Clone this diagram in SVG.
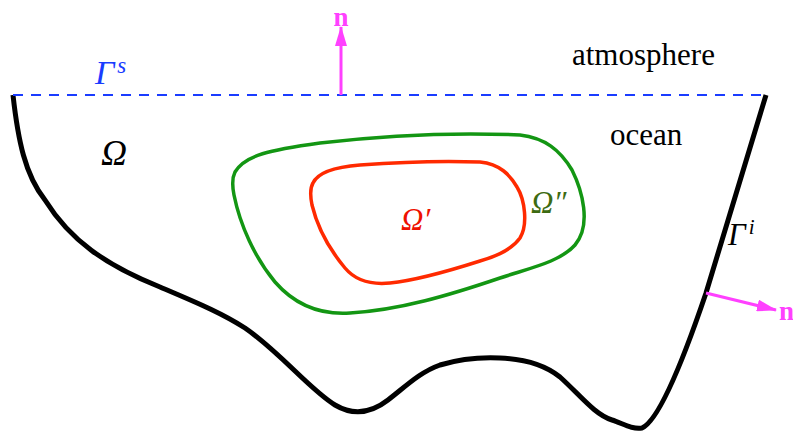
<svg xmlns="http://www.w3.org/2000/svg" width="793" height="432" viewBox="0 0 793 432">
<style>
.t{font-family:"Liberation Serif","Times New Roman",serif}
.it{font-style:italic}
.mag{fill:#ff40ff}
</style>
<defs>
<marker id="ah" markerWidth="20" markerHeight="12" refX="19" refY="6" orient="auto" markerUnits="userSpaceOnUse" viewBox="0 0 20 12">
<path d="M0,0 L20,6 L0,12 Z" fill="#ff40ff"/>
</marker>
</defs>
<rect width="793" height="432" fill="#fff"/>
<g id="basin">
<path d="M13,95 C18,140 25,175 45,200 C70,240 105,265 160,287 C195,302 220,312 245,328 C280,352 310,390 335,405 C352,415 370,414 388,400 C405,387 420,372 440,365 C460,359 480,357 500,358 C525,359 545,365 560,377 C580,395 595,415 612,420 C622,423 632,430 642,428 C660,420 685,355 706,293 L766,95" fill="none" stroke="#000" stroke-width="5" stroke-linejoin="round"/>
</g>
<g id="surface">
<line x1="13" y1="95" x2="766" y2="95" stroke="#1a3cff" stroke-width="2.2" stroke-dasharray="10,8"/>
</g>
<g id="omega2">
<path d="M235,172 C245,155 270,150 320,143 C380,136 450,132 520,135 C545,138 560,150 572,170 C582,190 592,225 575,245 C560,262 530,268 500,278 C450,295 400,310 350,313 C320,315 295,305 275,282 C255,258 240,225 234,195 C232,185 232,178 235,172 Z" fill="none" stroke="#139613" stroke-width="3.5"/>
</g>
<g id="omega1">
<path d="M313,183 C318,172 335,167 360,165 C400,162 450,161 480,162 C500,164 510,175 517,187 C525,200 528,225 520,238 C510,252 490,258 480,261 C455,269 420,280 390,283 C370,285 355,280 345,268 C330,250 318,230 312,205 C310,195 310,188 313,183 Z" fill="none" stroke="#ff2a00" stroke-width="3.5"/>
</g>
<g id="connectors">
<line x1="341" y1="95" x2="341" y2="27" stroke="#ff40ff" stroke-width="3" marker-end="url(#ah)"/>
<line x1="706" y1="293" x2="776" y2="310" stroke="#ff40ff" stroke-width="3" marker-end="url(#ah)"/>
</g>
<g id="labels">
<text class="t mag" x="341" y="26" font-size="27" font-weight="bold" text-anchor="middle">n</text>
<text class="t mag" x="779" y="320" font-size="27" font-weight="bold">n</text>
<text class="t it" x="95" y="84" font-size="34" fill="#1a3cff">Γ<tspan font-size="23" dy="-11" dx="3">s</tspan></text>
<text class="t it" x="101" y="165" font-size="36" fill="#000">Ω</text>
<text class="t it" x="401" y="230" font-size="31" fill="#ee1100">Ω′</text>
<text class="t it" x="531" y="213" font-size="31" fill="#3d6b12">Ω″</text>
<text class="t it" x="728" y="245" font-size="31" fill="#000">Γ<tspan font-size="21" dy="-11" dx="3">i</tspan></text>
<text class="t" x="572" y="65" font-size="31" fill="#000">atmosphere</text>
<text class="t" x="610" y="145" font-size="31" fill="#000">ocean</text>
</g>
</svg>
